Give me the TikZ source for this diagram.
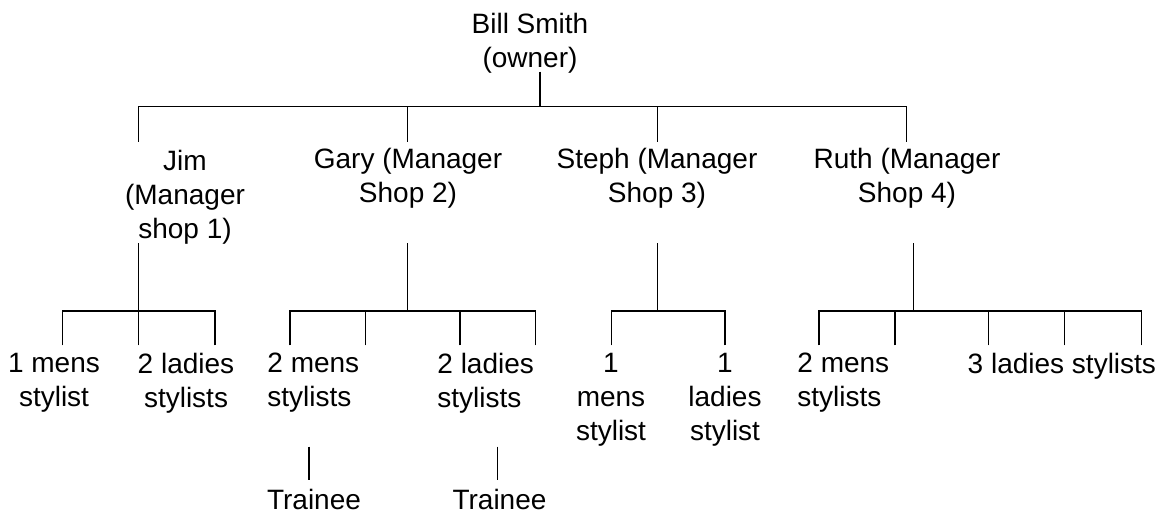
\documentclass[tikz,border=0pt]{standalone}
\usepackage{fontspec}
\setmainfont{Liberation Sans}

\begin{document}
\begin{tikzpicture}[x=0.75pt,y=-0.75pt,line width=1.1pt,
	lbl/.style={font=\fontsize{21}{25.5}\selectfont,inner sep=0pt,anchor=north,align=center},
	lbll/.style={lbl,anchor=north west,align=left}]

	\useasboundingbox (0,0) rectangle (1168,516);

	\node[lbl] (bill) at (530,12) {Bill Smith\\(owner)}; %社長

	\node[lbl] (jim) at (185,149) {Jim\\(Manager\\shop 1)}; %店長
	\node[lbl] (gary) at (408,147.6) {Gary (Manager\\Shop 2)};
	\node[lbl] (steph) at (657,147.6) {Steph (Manager\\Shop 3)};
	\node[lbl] (ruth) at (907,147.6) {Ruth (Manager\\Shop 4)};

	\node[lbl] (jim-men) at (54,352.7) {1 mens\\stylist}; %スタイリスト
	\node[lbl] (jim-lad) at (186,352.7) {2 ladies\\stylists};
	\node[lbll] (gary-men) at (266.7,352.7) {2 mens\\stylists};
	\node[lbll] (gary-lad) at (436.7,352.7) {2 ladies\\stylists};
	\node[lbl] (steph-men) at (611,352.7) {1\\mens\\stylist};
	\node[lbl] (steph-lad) at (725,352.7) {1\\ladies\\stylist};
	\node[lbll] (ruth-men) at (796.7,352.7) {2 mens\\stylists};
	\node[lbll] (ruth-lad) at (967,352.7) {3 ladies stylists};

	\node[lbl] (gary-tr1) at (314,488.3) {Trainee}; %見習い
	\node[lbl] (gary-tr2) at (499.5,488.3) {Trainee};

	\coordinate (bill-out) at (540,71.7) ;
	\coordinate (bill-bar) at (540,106.7) ;
	\coordinate (jim-in) at (138.7,141.7) ;
	\coordinate (gary-in) at (407.7,141.7) ;
	\coordinate (steph-in) at (657.7,141.7) ;
	\coordinate (ruth-in) at (906.7,141.7) ;

	\draw (bill-out)--(bill-bar);
	\foreach \m in {jim,gary,steph,ruth}
		\draw (\m-in) |- (bill-bar);

	\coordinate (jim-out) at (138.7,243.3) ;
	\coordinate (jim-bar) at (138.7,311) ;
	\coordinate (gary-out) at (407.7,243.3) ;
	\coordinate (gary-bar) at (407.7,311) ;
	\coordinate (steph-out) at (657.7,243.3) ;
	\coordinate (steph-bar) at (657.7,311) ;
	\coordinate (ruth-out) at (913.7,243.3) ;
	\coordinate (ruth-bar) at (913.7,311) ;

	\foreach \m in {jim,gary,steph,ruth}
		\draw (\m-out)--(\m-bar);

	\foreach \x [count=\i] in {62.7,138.7,215} {
		\coordinate (jim-s\i) at (\x,345.3) ;
		\draw (jim-s\i) |- (jim-bar);}
	\foreach \x [count=\i] in {290,365.7,460,535.7} {
		\coordinate (gary-s\i) at (\x,345.3) ;
		\draw (gary-s\i) |- (gary-bar);}
	\foreach \x [count=\i] in {611.7,725} {
		\coordinate (steph-s\i) at (\x,345.3) ;
		\draw (steph-s\i) |- (steph-bar);}
	\foreach \x [count=\i] in {819,895,988.7,1064.7,1141.3} {
		\coordinate (ruth-s\i) at (\x,345.3) ;
		\draw (ruth-s\i) |- (ruth-bar);}

	\coordinate (tr1-top) at (309,446.7) ;
	\coordinate (tr1-bot) at (309,480.3) ;
	\coordinate (tr2-top) at (497.7,446.7) ;
	\coordinate (tr2-bot) at (497.7,480.3) ;
	\draw (tr1-top)--(tr1-bot);
	\draw (tr2-top)--(tr2-bot);
\end{tikzpicture}
\end{document}
